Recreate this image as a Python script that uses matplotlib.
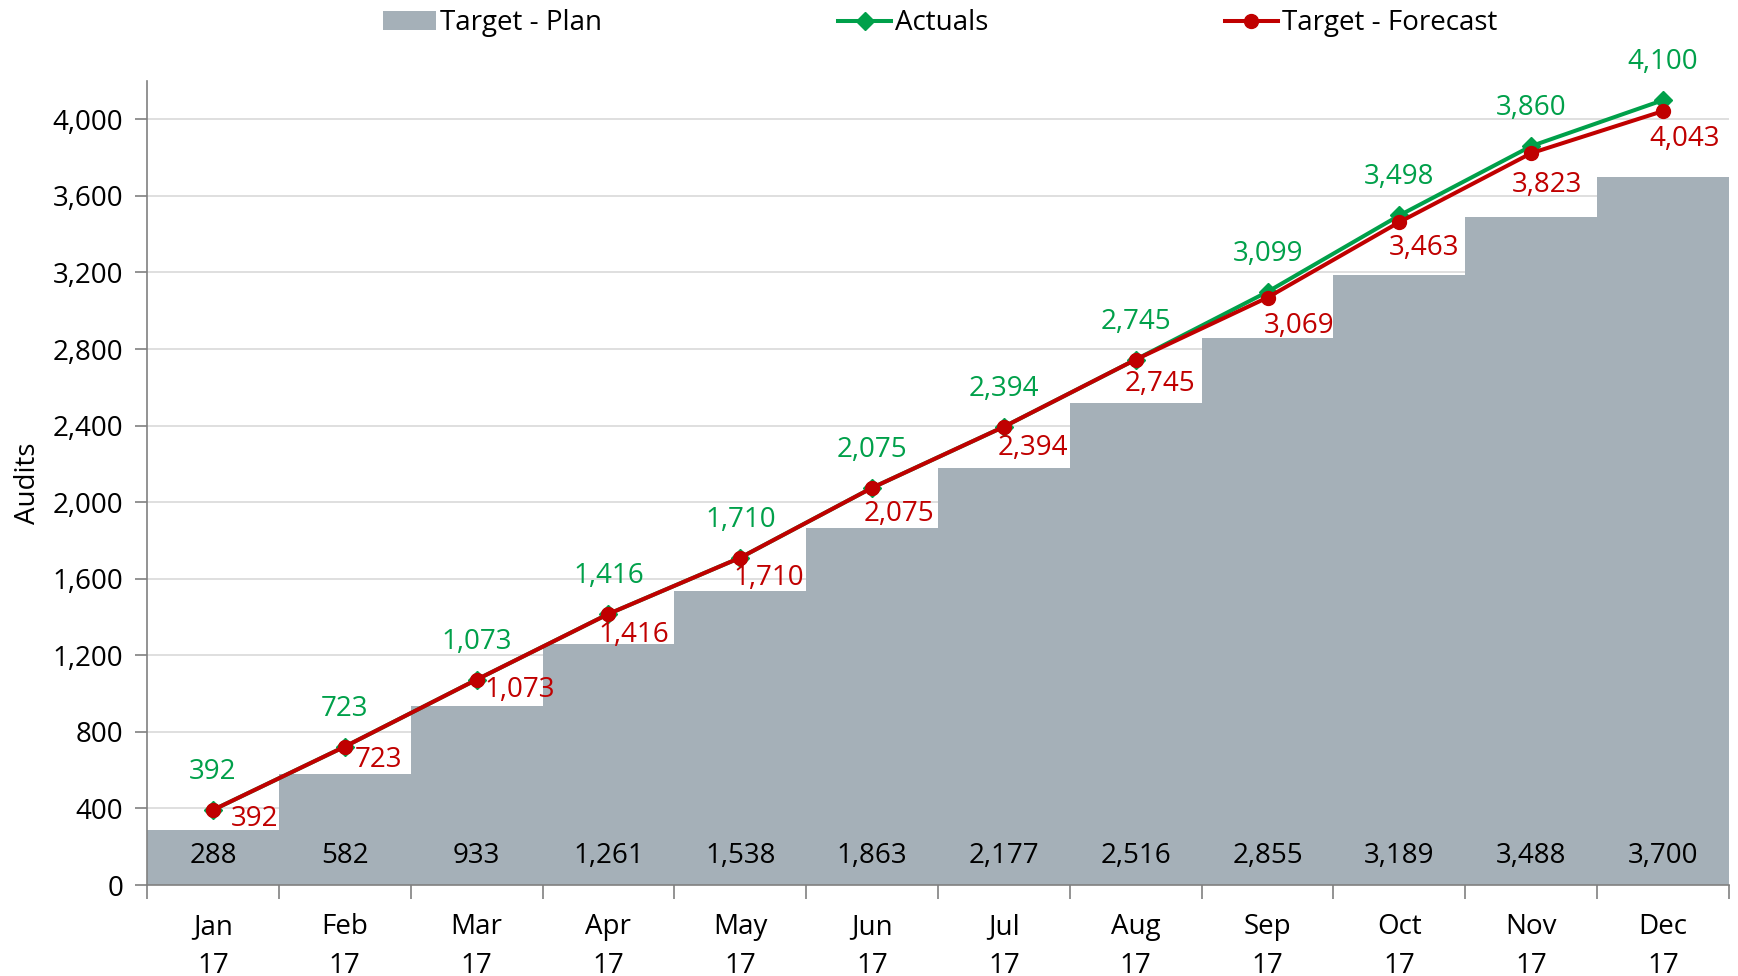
import matplotlib
matplotlib.use('Agg')
import matplotlib.pyplot as plt
from matplotlib.ticker import FuncFormatter, FixedLocator
import numpy as np

plt.rcParams['font.family'] = ['Open Sans', 'DejaVu Sans']

# 月份与数据
months = ['Jan', 'Feb', 'Mar', 'Apr', 'May', 'Jun', 'Jul', 'Aug', 'Sep', 'Oct', 'Nov', 'Dec']
year = '17'
plan = [288, 582, 933, 1261, 1538, 1863, 2177, 2516, 2855, 3189, 3488, 3700]
actuals = [392, 723, 1073, 1416, 1710, 2075, 2394, 2745, 3099, 3498, 3860, 4100]
forecast = [392, 723, 1073, 1416, 1710, 2075, 2394, 2745, 3069, 3463, 3823, 4043]

# 预测标签的偏移 (像素)
fc_dx = [42, 34, 43, 25, 28, 27, 29, 24, 32, 25, 16, 22]
fc_dy = [-9, -13, -10, -21, -20, -26, -21, -24, -28, -26, -32, -28]

GREEN = '#00A04A'
RED = '#C00000'
GREY = '#A5B0B8'
FS = 20

fig = plt.figure(figsize=(17.38, 9.76), dpi=100)
ax = fig.add_axes([0.0846, 0.0932, 0.9102, 0.8238])

x = np.arange(len(months))

# 目标计划 (阶梯柱)
h_plan = ax.bar(x, plan, width=1.0, color=GREY, label='Target - Plan', zorder=2)
for xi, v in zip(x, plan):
    ax.text(xi, 150, f'{v:,}', ha='center', va='center', fontsize=FS, color='black', zorder=5)

# 实际值与预测值
h_act, = ax.plot(x, actuals, color=GREEN, lw=2.9, marker='D', markersize=9, label='Actuals', zorder=3)
h_fc, = ax.plot(x, forecast, color=RED, lw=2.9, marker='o', markersize=10, label='Target - Forecast', zorder=4)

for xi, v in zip(x, actuals):
    ax.annotate(f'{v:,}', (xi, v), xytext=(0, 38), textcoords='offset pixels',
                ha='center', va='center', fontsize=FS, color=GREEN, zorder=6)
for xi, v, dx, dy in zip(x, forecast, fc_dx, fc_dy):
    ax.annotate(f'{v:,}', (xi, v), xytext=(dx, dy), textcoords='offset pixels',
                ha='center', va='center', fontsize=FS, color=RED, zorder=6)

# 坐标轴
ax.set_xlim(-0.5, len(months) - 0.5)
ax.set_ylim(0, 4200)
ax.set_yticks(np.arange(0, 4001, 400))
ax.yaxis.set_major_formatter(FuncFormatter(lambda v, p: f'{int(v):,}'))
ax.set_xticks(x)
ax.set_xticklabels([f'{m}\n{year}' for m in months], fontsize=FS, linespacing=1.55)
ax.xaxis.set_minor_locator(FixedLocator(np.arange(-0.5, len(months), 1.0)))
ax.tick_params(axis='x', which='major', length=0, pad=20)
ax.tick_params(axis='x', which='minor', length=10, color='#808080', width=1.2)
ax.tick_params(axis='y', labelsize=FS, length=9, color='#808080', width=1.2, pad=8)

ax.grid(axis='y', color='#D9D9D9', lw=1.2, zorder=0)
ax.set_axisbelow(True)
for s in ['top', 'right']:
    ax.spines[s].set_visible(False)
for s in ['left', 'bottom']:
    ax.spines[s].set_color('#808080')
    ax.spines[s].set_linewidth(1.2)

ax.set_ylabel('Audits', fontsize=FS, labelpad=8)

fig.legend(handles=[h_plan, h_act, h_fc], loc='center', bbox_to_anchor=(0.541, 0.976),
           ncol=3, frameon=False, fontsize=FS, columnspacing=8.5,
           handlelength=1.9, handletextpad=0.15)

fig.savefig('out.png', dpi=100)
